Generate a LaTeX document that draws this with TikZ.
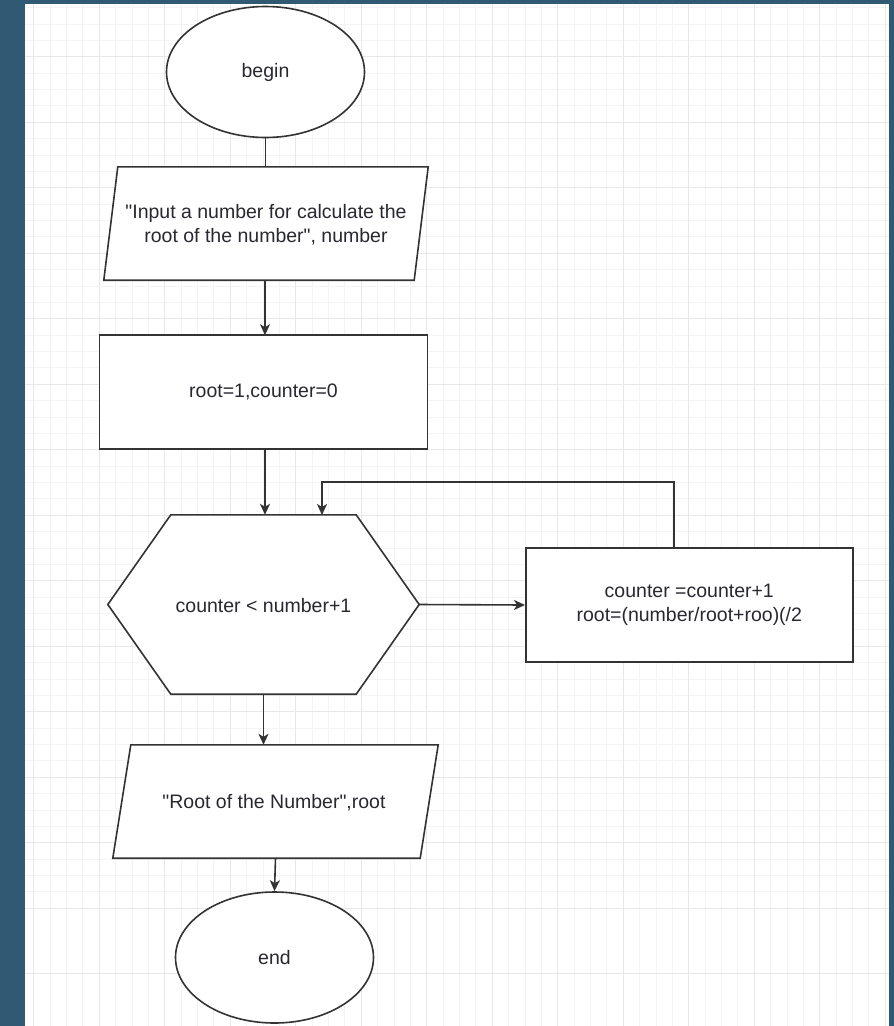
\documentclass[tikz,border=0pt]{standalone}
\usepackage{fontspec}
\setmainfont{Liberation Sans}
\newfontfamily\plainfont{Liberation Sans}
\usetikzlibrary{shapes.geometric,arrows.meta,calc}
\definecolor{frame}{RGB}{48,90,116}
\definecolor{gridminor}{RGB}{244,244,244}
\definecolor{gridmajor}{RGB}{232,232,232}
\definecolor{ink}{RGB}{51,51,51}
\definecolor{txt}{RGB}{40,40,48}
\tikzset{
  shapeline/.style={draw=ink, line width=1.6pt, fill=white},
  lbl/.style={text=txt, font=\plainfont\fontsize{19.5}{24}\selectfont, align=center, inner sep=0pt},
  termbox/.style={ellipse, shapeline, lbl, minimum width=198pt, minimum height=131pt},
  procbox/.style={rectangle, shapeline, lbl, minimum width=328pt, minimum height=114pt},
  ghost/.style={rectangle, lbl, minimum width=#1},
  conn/.style={draw=ink, line width=1.6pt},
  arrowconn/.style={conn, -{Stealth[length=11pt,width=10pt,inset=3pt]}},
}
\begin{document}
\begin{tikzpicture}[x=1pt,y=-1pt]
\useasboundingbox (0,0) rectangle (894,1026);
\fill[frame] (0,0) rectangle (894,1026);
\fill[white] (25,4) rectangle (889,1026);
\begin{scope}
\clip (25,4) rectangle (889,1026);
\foreach \i in {0,...,55} {
  \draw[gridminor, line width=0.9pt] ({17.4+16.375*\i},4) -- ({17.4+16.375*\i},1026);
  \draw[gridminor, line width=0.9pt] (25,{7.6+16.375*\i}) -- (889,{7.6+16.375*\i});
}
\foreach \i in {0,...,14} {
  \draw[gridmajor, line width=1pt] ({33.8+65.5*\i},4) -- ({33.8+65.5*\i},1026);
  \draw[gridmajor, line width=1pt] (25,{56.7+65.5*\i}) -- (889,{56.7+65.5*\i});
}
\end{scope}

% terminals
\node[termbox] (begin) at (265.5,72) {begin};
\node[termbox] (end) at (274.5,957.5) {end};

% input parallelogram
\node[ghost=324pt, minimum height=113pt] (input) at (266,223.5) {};
\draw[shapeline] ($(input.north west)+(14,0)$) -- (input.north east) -- ($(input.south east)+(-14,0)$) -- (input.south west) -- cycle;
\node[lbl] at (266,225) {"Input a number for calculate the\\root of the number", number};

% init
\node[procbox] (init) at (263.5,392) {root=1,counter=0};

% hexagon decision
\node[ghost=311pt, minimum height=179pt] (hex) at (263.5,604.5) {};
\draw[shapeline] ($(hex.north west)+(63,0)$) -- ($(hex.north east)+(-63,0)$) -- (hex.east) -- ($(hex.south east)+(-63,0)$) -- ($(hex.south west)+(63,0)$) -- (hex.west) -- cycle;
\node[lbl] at (263.5,606) {counter < number+1};

% loop body
\node[procbox, minimum width=327pt] (proc) at (689.3,605) {counter =counter+1\\root=(number/root+roo)(/2};

% output parallelogram
\node[ghost=325pt, minimum height=113pt] (output) at (275.5,801.5) {};
\draw[shapeline] ($(output.north west)+(18,0)$) -- (output.north east) -- ($(output.south east)+(-18,0)$) -- (output.south west) -- cycle;
\node[lbl] at (274,803) {"Root of the Number",root};

% connectors
\coordinate (hexin) at (322,515);
\coordinate (looptop) at (0,482);
\coordinate (procup) at (674,548);
\draw[conn] (begin.south) -- (begin.south |- input.north);
\draw[arrowconn] (input.south -| init.north) ++(1.5,0) -- ++(0,55);
\draw[arrowconn] ($(init.south)+(1.5,0)$) -- ($(init.south |- hex.north)+(1.5,0)$);
\draw[arrowconn] (procup) |- (hexin |- looptop) -- (hexin);
\draw[arrowconn] (hex.east) -- (proc.west);
\draw[arrowconn] (hex.south) -- (hex.south |- output.north);
\draw[arrowconn] (output.south) -- (end.north);
\end{tikzpicture}
\end{document}
